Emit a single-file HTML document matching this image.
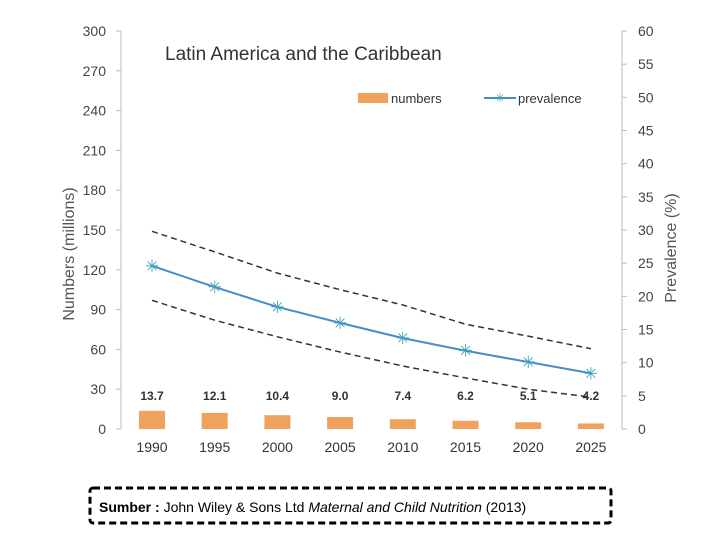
<!DOCTYPE html>
<html><head><meta charset="utf-8"><style>
body{margin:0;background:#fff;width:720px;height:540px;overflow:hidden;font-family:"Liberation Sans",sans-serif}
svg text{font-family:"Liberation Sans",sans-serif}
</style></head><body>
<svg id="c" width="720" height="540">
<text x="165" y="60" font-size="19" fill="#333">Latin America and the Caribbean</text>
<g>
<rect x="358" y="93" width="30" height="10" fill="#f0a25c"/>
<text x="391" y="103" font-size="13" fill="#333">numbers</text>
<line x1="484" y1="98" x2="516" y2="98" stroke="#4a8cc8" stroke-width="2"/>
<text x="500" y="102" font-size="12" fill="#3aa0b8" text-anchor="middle">✳</text>
<text x="518" y="103" font-size="13" fill="#333">prevalence</text>
</g>
<text transform="translate(74,254) rotate(-90)" font-size="16" fill="#555" text-anchor="middle">Numbers (millions)</text>
<text transform="translate(676,248) rotate(-90)" font-size="16" fill="#555" text-anchor="middle">Prevalence (%)</text>
<g id="g"></g>
<rect x="90" y="488" width="521" height="35" rx="3" fill="none" stroke="#000" stroke-width="3" stroke-dasharray="7,4"/>
<text x="99" y="512" font-size="14" fill="#000"><tspan font-weight="bold">Sumber :</tspan> John Wiley &amp; Sons Ltd <tspan font-style="italic">Maternal and Child Nutrition</tspan> (2013)</text>
</svg>
<script>
const years=[1990,1995,2000,2005,2010,2015,2020,2025];
const numbers=[13.7,12.1,10.4,9.0,7.4,6.2,5.1,4.2];
const prevalence=[24.6,21.4,18.4,16.0,13.7,11.8,10.1,8.4];
const upper=[29.8,26.7,23.5,21.0,18.7,15.8,14.0,12.1];
const lower=[19.4,16.4,13.9,11.6,9.5,7.7,6.0,4.8];
const leftTicks=[0,30,60,90,120,150,180,210,240,270,300];
const rightTicks=[0,5,10,15,20,25,30,35,40,45,50,55,60];
const NS="http://www.w3.org/2000/svg",g=document.getElementById('g');
const y0=429,y1=31;
const yL=v=>y0-(v/300)*(y0-y1), yR=v=>y0-(v/60)*(y0-y1);
const xs=i=>152+i*62.7;
function mk(t,a,p){const e=document.createElementNS(NS,t);for(const k in a)e.setAttribute(k,a[k]);(p||g).appendChild(e);return e;}
let e=mk('line',{x1:121,y1:y1,x2:121,y2:y0,stroke:'#bbb'});


e=mk('line',{x1:622,y1:y1,x2:622,y2:y0,stroke:'#bbb'});


leftTicks.forEach(v=>{mk('line',{x1:116,x2:121,y1:yL(v),y2:yL(v),stroke:'#bbb'});
 const t=mk('text',{x:106,y:yL(v)+5,'font-size':14,fill:'#444','text-anchor':'end'});t.textContent=v;
 
 });
rightTicks.forEach(v=>{mk('line',{x1:622,x2:627,y1:yR(v),y2:yR(v),stroke:'#bbb'});
 const t=mk('text',{x:638,y:yR(v)+5,'font-size':14,fill:'#444'});t.textContent=v;
 
 });
years.forEach((yr,i)=>{
 const t=mk('text',{x:xs(i),y:452,'font-size':14,fill:'#333','text-anchor':'middle'});t.textContent=yr;
 
 
 const b=mk('rect',{x:xs(i)-13,y:yL(numbers[i]),width:26,height:y0-yL(numbers[i]),fill:'#f0a25c'});
 
 
 const l=mk('text',{x:xs(i),y:400,'font-size':12,fill:'#333','text-anchor':'middle','font-weight':'bold'});l.textContent=numbers[i].toFixed(1);
 
 
});
function line(arr,attrs,name){const p=mk('polyline',Object.assign({points:arr.map((v,i)=>xs(i)+','+yR(v)).join(' '),fill:'none'},attrs));
 
 }
line(upper,{stroke:'#333','stroke-width':1.5,'stroke-dasharray':'6,4'},'upper-bound-line');
line(lower,{stroke:'#333','stroke-width':1.5,'stroke-dasharray':'6,4'},'lower-bound-line');
line(prevalence,{stroke:'#4a8cc8','stroke-width':2},'prevalence-line');
prevalence.forEach((v,i)=>{const m=mk('text',{x:xs(i),y:yR(v)+6,'font-size':17,fill:'#3aa0b8','text-anchor':'middle'});m.textContent='✳';
 
 });
</script>
</body></html>
